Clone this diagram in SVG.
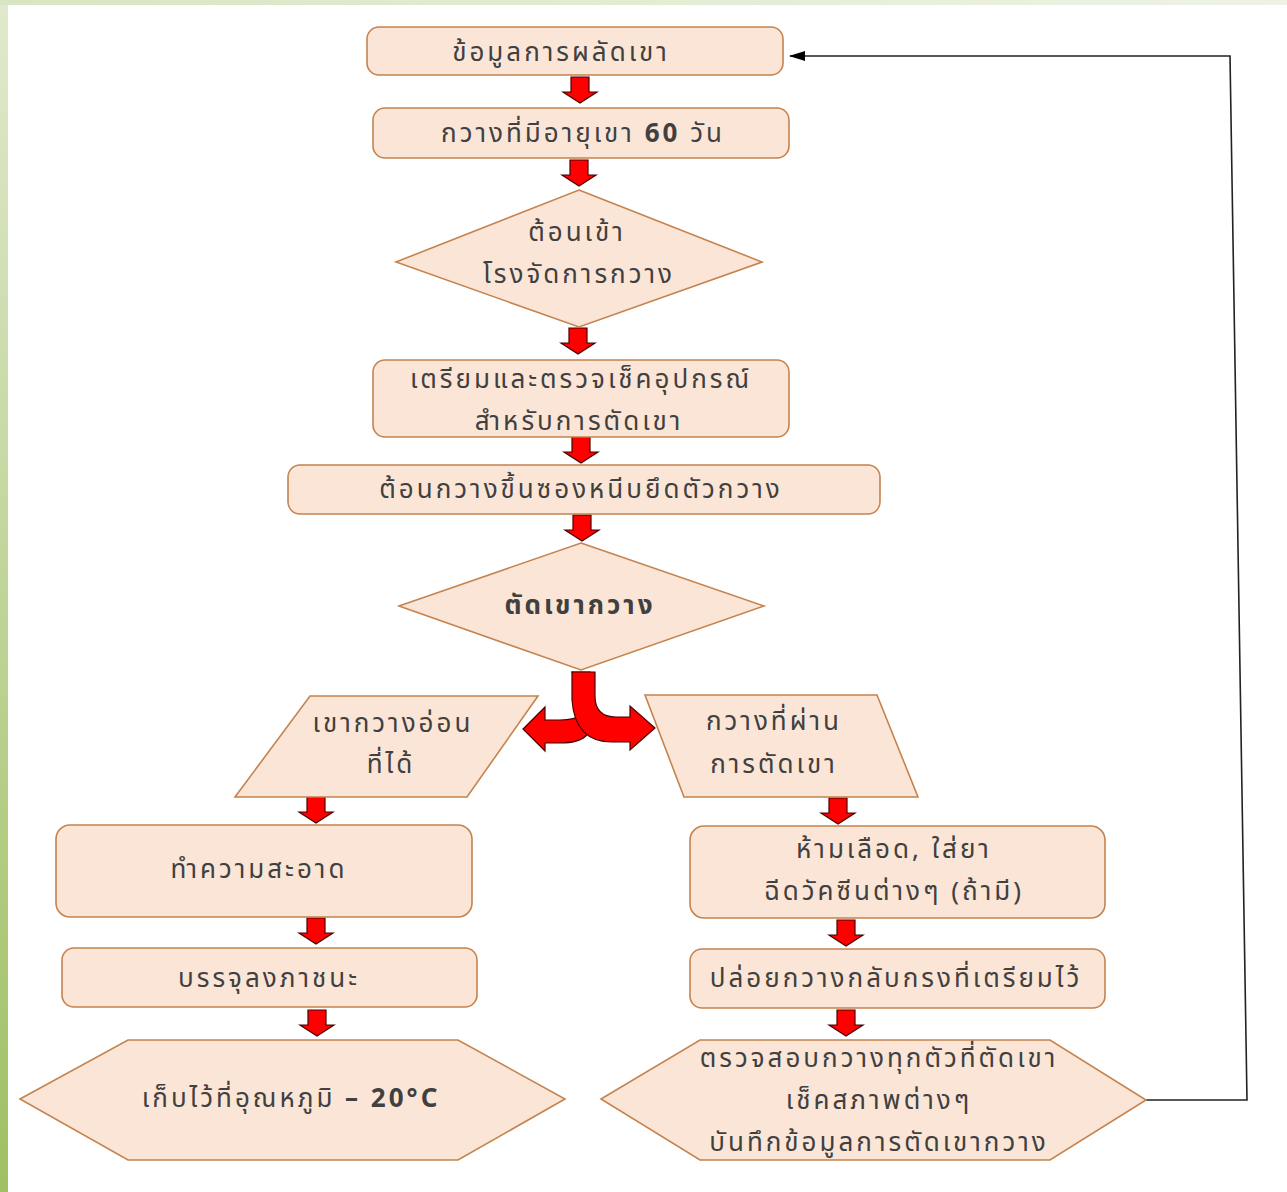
<svg xmlns="http://www.w3.org/2000/svg" width="1287" height="1192" viewBox="0 0 1287 1192">
<defs>
<linearGradient id="gl" x1="0" y1="0" x2="0" y2="1"><stop offset="0" stop-color="#e0e9cd"/><stop offset="1" stop-color="#9fc063"/></linearGradient>
<linearGradient id="gt" x1="0" y1="0" x2="1" y2="0"><stop offset="0" stop-color="#d9e5c2"/><stop offset="1" stop-color="#eef3e5"/></linearGradient>
<path id="ar" d="M-9 0H9V15H17L0 26L-17 15H-9Z" fill="#ff0000" stroke="#4a0000" stroke-width="1.2"/>
<marker id="mh" markerWidth="16" markerHeight="10" refX="15" refY="5" orient="auto" markerUnits="userSpaceOnUse"><path d="M0 0L16 5L0 10Z" fill="#000"/></marker>
</defs>
<style>
.n{fill:#fbe5d6;stroke:#c4834f;stroke-width:1.6}
.t{font-family:"Noto Sans","Noto Sans Thai",Tahoma,sans-serif;font-size:26px;letter-spacing:3px;fill:#404040;text-anchor:middle;dominant-baseline:central}
.b{font-weight:bold}
</style>
<rect width="1287" height="1192" fill="#fff"/>
<rect x="0" y="0" width="8" height="1192" fill="url(#gl)"/>
<rect x="0" y="0" width="1287" height="5" fill="url(#gt)"/>

<g id="connectors">
<use href="#ar" x="580" y="77"/>
<use href="#ar" x="579" y="160"/>
<use href="#ar" x="578" y="328"/>
<use href="#ar" x="581" y="437"/>
<use href="#ar" x="582" y="515"/>
<use href="#ar" x="316" y="797"/>
<use href="#ar" x="316" y="918"/>
<use href="#ar" x="317" y="1010"/>
<use href="#ar" x="838" y="798"/>
<use href="#ar" x="846" y="920"/>
<use href="#ar" x="846" y="1010"/>
<path d="M572 672H590V698Q590 720 560 720H545V707L523 729L545 751V743H560Q600 743 590 708Z" fill="#ff0000" stroke="#4a0000" stroke-width="1.2"/>
<path d="M572 672H595V696Q595 717 616 717H630V706L655 728L630 750V742H612Q575 742 572 700Z" fill="#ff0000" stroke="#4a0000" stroke-width="1.2"/>
<polyline points="1146,1100 1247,1100 1230,56 790,56" fill="none" stroke="#222" stroke-width="1.6" marker-end="url(#mh)"/>
</g>

<g id="n1"><rect class="n" x="367" y="27" width="416" height="48" rx="12"/><text class="t" x="561" y="51">ข้อมูลการผลัดเขา</text></g>
<g id="n2"><rect class="n" x="373" y="108" width="416" height="50" rx="12"/><text class="t" x="583" y="132">กวางที่มีอายุเขา <tspan class="b">60</tspan> วัน</text></g>
<g id="n3"><polygon class="n" points="579,190 762,262 579,327 396,262"/><text class="t" x="577" y="231">ต้อนเข้า</text><text class="t" x="579" y="273">โรงจัดการกวาง</text></g>
<g id="n4"><rect class="n" x="373" y="360" width="416" height="77" rx="12"/><text class="t" x="581" y="378">เตรียมและตรวจเช็คอุปกรณ์</text><text class="t" x="579" y="420">สำหรับการตัดเขา</text></g>
<g id="n5"><rect class="n" x="288" y="465" width="592" height="49" rx="12"/><text class="t" x="581" y="488">ต้อนกวางขึ้นซองหนีบยึดตัวกวาง</text></g>
<g id="n6"><polygon class="n" points="581,543 764,606 581,670 399,606"/><text class="t b" x="580" y="604">ตัดเขากวาง</text></g>
<g id="n7"><polygon class="n" points="310,696 538,696 467,797 235,797"/><text class="t" x="393" y="722">เขากวางอ่อน</text><text class="t" x="391" y="763">ที่ได้</text></g>
<g id="n8"><polygon class="n" points="645,695 877,695 918,797 684,797"/><text class="t" x="774" y="720">กวางที่ผ่าน</text><text class="t" x="774" y="763">การตัดเขา</text></g>
<g id="n9"><rect class="n" x="56" y="825" width="416" height="92" rx="14"/><text class="t" x="259" y="868">ทำความสะอาด</text></g>
<g id="n10"><rect class="n" x="62" y="948" width="415" height="59" rx="12"/><text class="t" x="269" y="977">บรรจุลงภาชนะ</text></g>
<g id="n11"><polygon class="n" points="20,1099 128,1040 458,1040 565,1099 458,1160 128,1160"/><text class="t" x="291" y="1097">เก็บไว้ที่อุณหภูมิ <tspan class="b">– 20°C</tspan></text></g>
<g id="n12"><rect class="n" x="690" y="826" width="415" height="92" rx="14"/><text class="t" x="894" y="848">ห้ามเลือด, ใส่ยา</text><text class="t" x="894" y="890">ฉีดวัคซีนต่างๆ (ถ้ามี)</text></g>
<g id="n13"><rect class="n" x="690" y="949" width="415" height="59" rx="12"/><text class="t" x="896" y="977">ปล่อยกวางกลับกรงที่เตรียมไว้</text></g>
<g id="n14"><polygon class="n" points="601,1099 700,1040 1050,1040 1146,1100 1050,1160 700,1160"/><text class="t" x="879" y="1057">ตรวจสอบกวางทุกตัวที่ตัดเขา</text><text class="t" x="879" y="1099">เช็คสภาพต่างๆ</text><text class="t" x="879" y="1141">บันทึกข้อมูลการตัดเขากวาง</text></g>
</svg>
